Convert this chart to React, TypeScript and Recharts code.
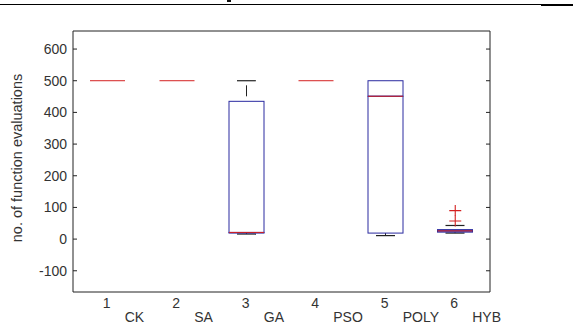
import React from "react";
import { ComposedChart, Bar, Scatter, XAxis, YAxis, Label } from "recharts";

const methods = ["CK", "SA", "GA", "PSO", "POLY", "HYB"];
const tickNumbers = ["1", "2", "3", "4", "5", "6"];
const minValues = [500, 500, 16, 500, 11, 19];
const q1Values = [500, 500, 19, 500, 19, 22];
const medianValues = [500, 500, 21, 500, 451, 26];
const q3Values = [500, 500, 435, 500, 500, 30];
const maxValues = [500, 500, 500, 500, 500, 43];
const outlierA: (number | null)[] = [null, null, null, null, null, 57];
const outlierB: (number | null)[] = [null, null, null, null, null, 90];
const yTicks = [-100, 0, 100, 200, 300, 400, 500, 600];
const yDomain = [-167, 657];

const data = methods.map((m, i) => ({
  name: tickNumbers[i],
  method: m,
  base: minValues[i],
  lowWhisker: q1Values[i] - minValues[i],
  lowBox: medianValues[i] - q1Values[i],
  highBox: q3Values[i] - medianValues[i],
  highWhisker: maxValues[i] - q3Values[i],
  o1: outlierA[i],
  o2: outlierB[i],
}));

const FONT = "'Liberation Sans', Arial, sans-serif";
const BOX = "#2a2aa0";
const MED = "#d42020";
const WHISK = "#222";
const CAP_HALF = 9.5;

const Empty = () => <g />;

const LowWhiskerShape = (p: any) => {
  const { x, y, width, height, payload } = p;
  const cx = x + width / 2;
  if (!payload || payload.lowWhisker <= 0) return <g />;
  return (
    <g>
      <line x1={cx} x2={cx} y1={y} y2={y + height} stroke={WHISK} strokeWidth={1} strokeDasharray="11 6" />
      <line x1={cx - CAP_HALF} x2={cx + CAP_HALF} y1={y + height} y2={y + height} stroke={WHISK} strokeWidth={1.2} />
    </g>
  );
};

const HighWhiskerShape = (p: any) => {
  const { x, y, width, height, payload } = p;
  const cx = x + width / 2;
  if (!payload || payload.highWhisker <= 0) return <g />;
  return (
    <g>
      <line x1={cx} x2={cx} y1={y + height} y2={y} stroke={WHISK} strokeWidth={1} strokeDasharray="11 6" strokeDashoffset={12} />
      <line x1={cx - CAP_HALF} x2={cx + CAP_HALF} y1={y} y2={y} stroke={WHISK} strokeWidth={1.2} />
    </g>
  );
};

const LowBoxShape = (p: any) => {
  const { x, y, width, height } = p;
  return <rect x={x} y={y} width={width} height={Math.max(0, height)} fill="none" stroke={BOX} strokeWidth={1} />;
};

const HighBoxShape = (p: any) => {
  const { x, y, width, height } = p;
  const h = Math.max(0, height);
  return (
    <g>
      <rect x={x} y={y} width={width} height={h} fill="none" stroke={BOX} strokeWidth={1} />
      <line x1={x} x2={x + width} y1={y + h} y2={y + h} stroke={MED} strokeWidth={1} />
    </g>
  );
};

const PlusShape = (p: any) => {
  const { cx, cy } = p;
  if (cx == null || cy == null || isNaN(cy)) return <g />;
  return (
    <g>
      <line x1={cx - 6} x2={cx + 6} y1={cy} y2={cy} stroke={MED} strokeWidth={1.1} />
      <line x1={cx} x2={cx} y1={cy - 5.5} y2={cy + 5.5} stroke={MED} strokeWidth={1.1} />
    </g>
  );
};

const XTick = (p: any) => {
  const { x, y, payload } = p;
  const idx = payload.index ?? tickNumbers.indexOf(payload.value);
  return (
    <g>
      <text x={x - 1} y={y + 16} textAnchor="middle" fontSize={14} fontFamily={FONT} fill="#333">
        {payload.value}
      </text>
      <text x={x + 17} y={y + 30} textAnchor="start" fontSize={14} fontFamily={FONT} fill="#333">
        {methods[idx]}
      </text>
    </g>
  );
};

const YTickLeft = (p: any) => {
  const { x, y, payload } = p;
  return (
    <g>
      <line x1={x} x2={x + 4} y1={y} y2={y} stroke="#222" strokeWidth={1} />
      <text x={x - 6} y={y} dy="0.36em" textAnchor="end" fontSize={14} fontFamily={FONT} fill="#333">
        {payload.value}
      </text>
    </g>
  );
};

const YTickRight = (p: any) => {
  const { x, y } = p;
  return <line x1={x - 4} x2={x} y1={y} y2={y} stroke="#222" strokeWidth={1} />;
};

export default function App() {
  return (
    <div style={{ position: "absolute", left: 0, top: 0, width: 573, height: 328, background: "#fff" }}>
      <div style={{ position: "absolute", left: 0, top: 4, width: 541, height: 1, background: "#000" }} />
      <div style={{ position: "absolute", left: 541, top: 4, width: 32, height: 2, background: "#000" }} />
      <div style={{ position: "absolute", left: 227, top: 0, width: 4, height: 2, background: "#111" }} />
      <ComposedChart
        width={573}
        height={328}
        data={data}
        margin={{ top: 30, right: 82, bottom: 0, left: 0 }}
        barCategoryGap={0}
      >
        <XAxis
          dataKey="name"
          xAxisId={0}
          height={36}
          interval={0}
          tickLine={false}
          tickSize={0}
          tickMargin={0}
          axisLine={{ stroke: "#222", strokeWidth: 1 }}
          tick={<XTick />}
        />
        <XAxis dataKey="name" xAxisId="top" orientation="top" height={1} tick={false} tickLine={false} axisLine={{ stroke: "#222", strokeWidth: 1 }} />
        <YAxis
          yAxisId={0}
          type="number"
          domain={yDomain}
          ticks={yTicks}
          allowDataOverflow
          width={73}
          tickLine={false}
          tickSize={0}
          tickMargin={0}
          axisLine={{ stroke: "#222", strokeWidth: 1 }}
          tick={<YTickLeft />}
        >
          <Label
            content={() => (
              <text transform="translate(22,158) rotate(-90)" textAnchor="middle" fontSize={14.5} fontFamily={FONT} fill="#333">
                no. of function evaluations
              </text>
            )}
          />
        </YAxis>
        <YAxis
          yAxisId="r"
          orientation="right"
          type="number"
          domain={yDomain}
          ticks={yTicks}
          allowDataOverflow
          width={1}
          tickLine={false}
          tickSize={0}
          tickMargin={0}
          axisLine={{ stroke: "#222", strokeWidth: 1 }}
          tick={<YTickRight />}
        />
        <Bar dataKey="base" stackId="box" barSize={35} shape={<Empty />} isAnimationActive={false} />
        <Bar dataKey="lowWhisker" stackId="box" barSize={35} shape={<LowWhiskerShape />} isAnimationActive={false} />
        <Bar dataKey="lowBox" stackId="box" barSize={35} shape={<LowBoxShape />} isAnimationActive={false} />
        <Bar dataKey="highBox" stackId="box" barSize={35} shape={<HighBoxShape />} isAnimationActive={false} />
        <Bar dataKey="highWhisker" stackId="box" barSize={35} shape={<HighWhiskerShape />} isAnimationActive={false} />
        <Scatter dataKey="o1" shape={<PlusShape />} isAnimationActive={false} />
        <Scatter dataKey="o2" shape={<PlusShape />} isAnimationActive={false} />
      </ComposedChart>
    </div>
  );
}
